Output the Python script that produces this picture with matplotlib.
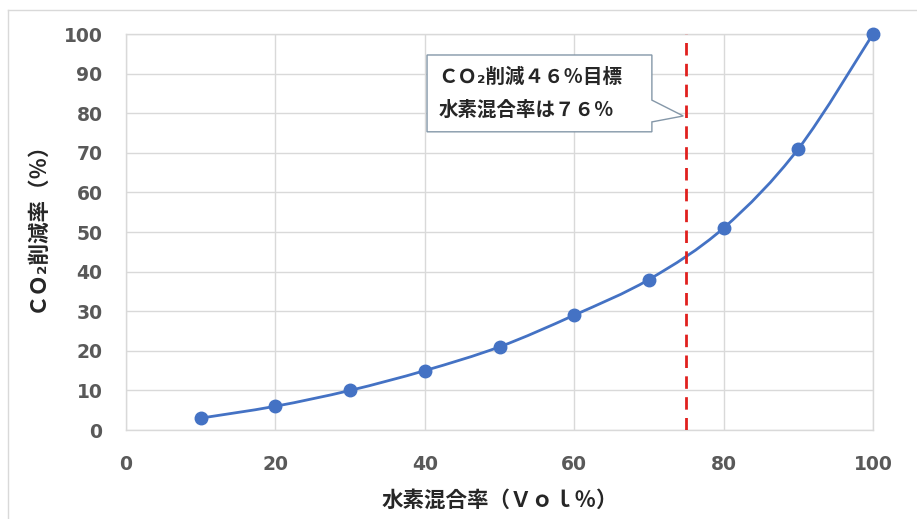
import matplotlib
matplotlib.use("Agg")
import matplotlib.pyplot as plt
from matplotlib.path import Path
from matplotlib.patches import PathPatch, Polygon
from matplotlib.lines import Line2D

plt.rcParams['font.family'] = ['Noto Sans CJK JP', 'DejaVu Sans']

# Data
h2_ratio = [10, 20, 30, 40, 50, 60, 70, 80, 90, 100]
co2_reduction = [3, 6, 10, 15, 21, 29, 38, 51, 71, 100]
x_ticks = [0, 20, 40, 60, 80, 100]
y_ticks = [0, 10, 20, 30, 40, 50, 60, 70, 80, 90, 100]
target_x = 75
note_lines = ["ＣＯ₂削減４６％目標", "水素混合率は７６％"]
xlabel = "水素混合率（Ｖｏｌ％）"
ylabel = "ＣＯ₂削減率（％）"

fig = plt.figure(figsize=(9.17, 5.19), dpi=100)
ax = fig.add_axes([126/917, 89/519, 747/917, 396/519])

blue = '#4472C4'
grid_c = '#d9d9d9'
tick_c = '#595959'

# smooth curve (Bezier through points)
pts = list(zip(h2_ratio, co2_reduction))
verts = [pts[0]]
codes = [Path.MOVETO]
n = len(pts)
for i in range(n - 1):
    p0 = pts[i - 1] if i > 0 else pts[i]
    p1 = pts[i]
    p2 = pts[i + 1]
    p3 = pts[i + 2] if i + 2 < n else pts[i + 1]
    c1 = (p1[0] + (p2[0] - p0[0]) / 6, p1[1] + (p2[1] - p0[1]) / 6)
    c2 = (p2[0] - (p3[0] - p1[0]) / 6, p2[1] - (p3[1] - p1[1]) / 6)
    verts += [c1, c2, p2]
    codes += [Path.CURVE4] * 3
ax.add_patch(PathPatch(Path(verts, codes), facecolor='none', edgecolor=blue, lw=2, zorder=3))
ax.plot(h2_ratio, co2_reduction, linestyle='none', marker='o', markersize=9,
        color=blue, zorder=4, clip_on=False)

ax.axvline(target_x, color='#e0201e', lw=2, linestyle=(0, (4.5, 3)), zorder=3)

ax.set_xlim(0, 100)
ax.set_ylim(0, 100)
ax.set_xticks(x_ticks)
ax.set_yticks(y_ticks)
ax.grid(True, color=grid_c, lw=1)
ax.set_axisbelow(True)
for s in ax.spines.values():
    s.set_color(grid_c)
    s.set_linewidth(1)
ax.tick_params(length=0, colors=tick_c, labelsize=13.5)
ax.tick_params(axis='x', pad=18)
ax.tick_params(axis='y', pad=17)
for lab in ax.get_xticklabels() + ax.get_yticklabels():
    lab.set_fontweight('bold')
    lab.set_family(['DejaVu Sans'])

ax.set_xlabel(xlabel, fontsize=15.5, fontweight='bold', color='#262626')
ax.xaxis.label.set_va('center')
ax.xaxis.set_label_coords(0.5, -0.177)
ax.set_ylabel(ylabel, fontsize=15.5, fontweight='bold', color='#262626')
ax.yaxis.label.set_va('center')
ax.yaxis.set_label_coords(-0.120, 0.528)

# callout
poly = Polygon([(40.3, 94.7), (70.4, 94.7), (70.4, 83.3), (74.6, 79.3),
                (70.4, 77.8), (70.4, 75.3), (40.3, 75.3)], closed=True,
               facecolor='white', edgecolor='#8497a8', lw=1, zorder=5)
ax.add_patch(poly)
ax.text(41.8, 89.1, note_lines[0], fontsize=14, fontweight='bold', color='#262626',
        va='center', ha='left', zorder=6)
ax.text(41.8, 80.8, note_lines[1], fontsize=14, fontweight='bold', color='#262626',
        va='center', ha='left', zorder=6)

# outer frame
fig.add_artist(Line2D([8/917, 1], [1 - 10/519, 1 - 10/519], color=grid_c, lw=1))
fig.add_artist(Line2D([8/917, 8/917], [0, 1 - 10/519], color=grid_c, lw=1))

fig.savefig('out.png', dpi=100)
